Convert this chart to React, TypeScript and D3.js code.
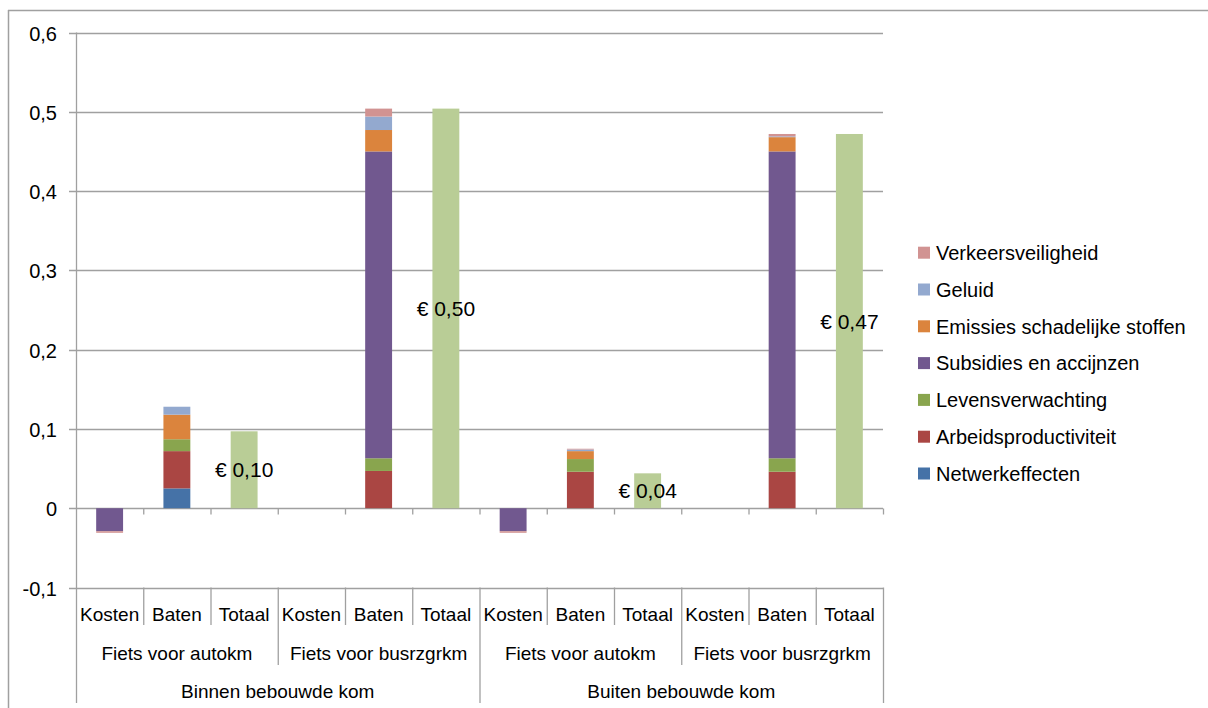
import React from "react";
import * as d3 from "d3";

// Category levels of the horizontal axis
const categories = ["Kosten", "Baten", "Totaal", "Kosten", "Baten", "Totaal", "Kosten", "Baten", "Totaal", "Kosten", "Baten", "Totaal"];
const subGroups = ["Fiets voor autokm", "Fiets voor busrzgrkm", "Fiets voor autokm", "Fiets voor busrzgrkm"];
const groups = ["Binnen bebouwde kom", "Buiten bebouwde kom"];

// Series values (euro per km), one value per category
const netwerkeffecten = [0, 0.025, 0, 0, 0, 0, 0, 0, 0, 0, 0, 0];
const arbeidsproductiviteit = [0, 0.047, 0, 0, 0.047, 0, 0, 0.046, 0, 0, 0.046, 0];
const levensverwachting = [0, 0.015, 0, 0, 0.016, 0, 0, 0.016, 0, 0, 0.017, 0];
const subsidies = [-0.029, 0, 0, 0, 0.387, 0, -0.029, 0, 0, 0, 0.387, 0];
const emissies = [0, 0.031, 0, 0, 0.027, 0, 0, 0.01, 0, 0, 0.018, 0];
const geluid = [0, 0.01, 0, 0, 0.017, 0, 0, 0.002, 0, 0, 0.001, 0];
const verkeersveiligheid = [-0.002, 0, 0, 0, 0.01, 0, -0.002, 0.001, 0, 0, 0.003, 0];
const totaal = [0, 0, 0.097, 0, 0, 0.504, 0, 0, 0.044, 0, 0, 0.472];

const yTicks = [-0.1, 0, 0.1, 0.2, 0.3, 0.4, 0.5, 0.6];

const series = [
  { key: "Netwerkeffecten", values: netwerkeffecten, color: "#4572A7", legend: true },
  { key: "Arbeidsproductiviteit", values: arbeidsproductiviteit, color: "#AA4643", legend: true },
  { key: "Levensverwachting", values: levensverwachting, color: "#89A54E", legend: true },
  { key: "Subsidies en accijnzen", values: subsidies, color: "#71588F", legend: true },
  { key: "Emissies schadelijke stoffen", values: emissies, color: "#DB843D", legend: true },
  { key: "Geluid", values: geluid, color: "#93A9CF", legend: true },
  { key: "Verkeersveiligheid", values: verkeersveiligheid, color: "#D19392", legend: true },
  { key: "Totaal", values: totaal, color: "#B9CD96", legend: false },
];

const nl = d3.formatLocale({ decimal: ",", thousands: ".", grouping: [3], currency: ["€ ", ""], minus: "-" });
const fmtTick = nl.format(".1~f");
const fmtEuro = nl.format(".2f");

const FONT = "'Liberation Sans', Arial, sans-serif";
const GRID = "#A0A0A0";

export default function App() {
  const W = 1208;
  const H = 708;
  const plotLeft = 76;
  const plotRight = 883;
  const plotTop = 32.5;
  const plotBottom = 587.5;

  const x = d3.scaleBand<number>().domain(d3.range(categories.length)).range([plotLeft, plotRight]).padding(0);
  const step = x.step();
  const barW = step * 0.4;
  const y = d3.scaleLinear().domain([-0.1, 0.6]).range([plotBottom, plotTop]);

  const rows = categories.map((_, i) => {
    const r: Record<string, number> = {};
    series.forEach((s) => (r[s.key] = s.values[i]));
    return r;
  });
  const stacked = d3
    .stack<Record<string, number>>()
    .keys(series.map((s) => s.key))
    .offset(d3.stackOffsetDiverging)(rows);

  const y0 = Math.round(y(0)) + 0.5;
  const boundaries = d3.range(categories.length + 1).map((i) => plotLeft + i * step);

  const sepBottom = (i: number) => {
    if (i === 0 || i === 6 || i === 12) return 703;
    if (i % 3 === 0) return 665;
    return 625;
  };

  const legendItems = series.filter((s) => s.legend).slice().reverse();

  return (
    <svg width={W} height={H} style={{ position: "absolute", left: 0, top: 0, background: "#fff" }} fontFamily={FONT}>
      {/* outer frame */}
      <line x1={8} x2={W} y1={10.5} y2={10.5} stroke={GRID} strokeWidth={1.5} />
      <line x1={8.5} x2={8.5} y1={10} y2={H} stroke={GRID} strokeWidth={1.5} />

      {/* gridlines and value axis */}
      {yTicks.map((t) => {
        const yy = Math.round(y(t)) + 0.5;
        return (
          <g key={t}>
            <line x1={plotLeft - 7} x2={plotRight} y1={yy} y2={yy} stroke={GRID} strokeWidth={1.3} />
            <text x={57} y={yy} dy="0.36em" textAnchor="end" fontSize={20} fill="#000">
              {fmtTick(t)}
            </text>
          </g>
        );
      })}
      <line x1={plotLeft + 0.5} x2={plotLeft + 0.5} y1={plotTop} y2={703} stroke={GRID} strokeWidth={1.3} />

      {/* bars */}
      {stacked.map((layer, li) => (
        <g key={layer.key} fill={series[li].color}>
          {layer.map((d, i) => {
            const top = y(Math.max(d[0], d[1]));
            const bot = y(Math.min(d[0], d[1]));
            if (bot - top <= 0) return null;
            return <rect key={i} x={(x(i) as number) + (step - barW) / 2} y={top} width={barW} height={bot - top} />;
          })}
        </g>
      ))}

      {/* category ticks on the zero line */}
      {boundaries.slice(1).map((bx, i) => (
        <line key={i} x1={bx + 0.5} x2={bx + 0.5} y1={y0} y2={y0 + 6} stroke={GRID} strokeWidth={1.3} />
      ))}

      {/* multi-level category separators */}
      {boundaries.map((bx, i) =>
        i === 0 ? null : (
          <line key={i} x1={bx + 0.5} x2={bx + 0.5} y1={plotBottom} y2={sepBottom(i)} stroke={GRID} strokeWidth={1.3} />
        )
      )}

      {/* category labels */}
      {categories.map((c, i) => (
        <text key={i} x={(x(i) as number) + step / 2} y={621} textAnchor="middle" fontSize={19} fill="#000">
          {c}
        </text>
      ))}
      {subGroups.map((g, i) => (
        <text key={i} x={plotLeft + (i * 3 + 1.5) * step} y={660} textAnchor="middle" fontSize={19} fill="#000">
          {g}
        </text>
      ))}
      {groups.map((g, i) => (
        <text key={i} x={plotLeft + (i * 6 + 3) * step} y={698} textAnchor="middle" fontSize={19} fill="#000">
          {g}
        </text>
      ))}

      {/* value labels on the total bars */}
      {totaal.map((v, i) =>
        v === 0 ? null : (
          <text key={i} x={(x(i) as number) + step / 2} y={y(v / 2)} dy="0.36em" textAnchor="middle" fontSize={21} fill="#000">
            {"€ " + fmtEuro(v)}
          </text>
        )
      )}

      {/* legend */}
      {legendItems.map((s, i) => {
        const cy = 252.7 + i * 36.8;
        return (
          <g key={s.key}>
            <rect x={918} y={cy - 6} width={12} height={12} fill={s.color} />
            <text x={936} y={cy} dy="0.36em" fontSize={20} fill="#000">
              {s.key}
            </text>
          </g>
        );
      })}
    </svg>
  );
}
